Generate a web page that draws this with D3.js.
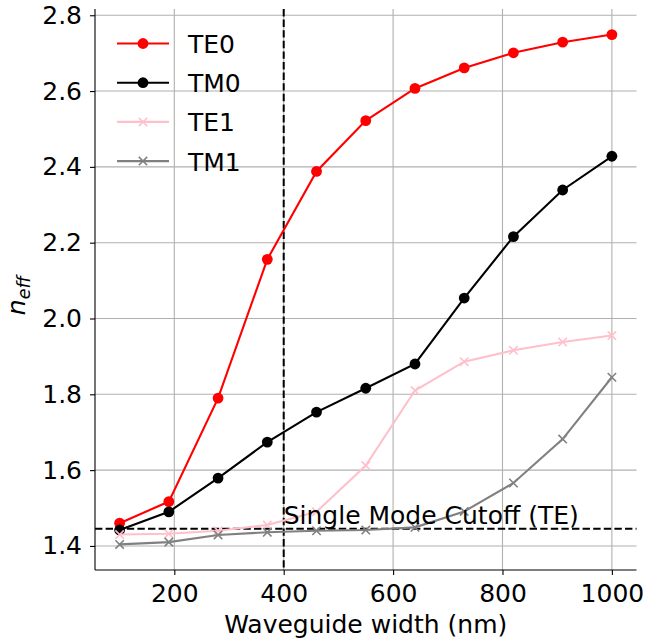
<!DOCTYPE html>
<html>
<head>
<meta charset="utf-8">
<script src="https://cdn.jsdelivr.net/npm/d3@7"></script>
<style>
  body { margin: 0; background: #fff; }
  svg text { font-family: "DejaVu Sans", sans-serif; fill: #000; }
</style>
</head>
<body>
<svg id="chart" width="645" height="644"></svg>
<script>
// Effective index vs waveguide width

// Data
const widths = [100, 190, 280, 370, 460, 550, 640, 730, 820, 910, 1000];
const te0 = [1.46, 1.517, 1.79, 2.156, 2.388, 2.522, 2.607, 2.661, 2.701, 2.729, 2.749];
const tm0 = [1.442, 1.49, 1.579, 1.674, 1.753, 1.816, 1.88, 2.054, 2.216, 2.339, 2.428];
const te1 = [1.43, 1.432, 1.44, 1.455, 1.49, 1.612, 1.81, 1.886, 1.916, 1.938, 1.955];
const tm1 = [1.404, 1.41, 1.429, 1.436, 1.44, 1.442, 1.449, 1.491, 1.566, 1.682, 1.845];
const seriesNames = ['TE0', 'TM0', 'TE1', 'TM1'];
const seriesColors = ['#ff0000', '#000000', '#ffc0cb', '#808080'];
const seriesMarkers = ['circle', 'circle', 'x', 'x'];
const xTicks = [200, 400, 600, 800, 1000];
const yTicks = [1.4, 1.6, 1.8, 2.0, 2.2, 2.4, 2.6, 2.8];
const cutoffWidth = 400;
const cutoffIndex = 1.445;

const series = [te0, tm0, te1, tm1].map((vals, i) => ({
    name: seriesNames[i],
    color: seriesColors[i],
    marker: seriesMarkers[i],
    points: widths.map((w, j) => ({ x: w, y: vals[j] }))
}));

// Layout
const plot = { left: 95, right: 636.5, top: 9, bottom: 570 };
const fontSize = 25;
const svg = d3.select('#chart');

const x = d3.scaleLinear().domain([55, 1045]).range([plot.left, plot.right]);
const y = d3.scaleLinear().domain([1.3365, 2.8165]).range([plot.bottom, plot.top]);

// Grid
const grid = svg.append('g');
grid.selectAll('.vgrid').data(xTicks).enter().append('line')
    .attr('x1', d => x(d)).attr('x2', d => x(d))
    .attr('y1', plot.top).attr('y2', plot.bottom)
    .attr('stroke', '#b0b0b0').attr('stroke-width', 1.1);
grid.selectAll('.hgrid').data(yTicks).enter().append('line')
    .attr('x1', plot.left).attr('x2', plot.right)
    .attr('y1', d => y(d)).attr('y2', d => y(d))
    .attr('stroke', '#b0b0b0').attr('stroke-width', 1.1);

// Axes
const xAxis = svg.append('g')
    .attr('transform', `translate(0,${plot.bottom})`)
    .call(d3.axisBottom(x).tickValues(xTicks).tickSize(5).tickPadding(9).tickFormat(d3.format('d')));
const yAxis = svg.append('g')
    .attr('transform', `translate(${plot.left},0)`)
    .call(d3.axisLeft(y).tickValues(yTicks).tickSize(5).tickPadding(8).tickFormat(d3.format('.1f')));

[xAxis, yAxis].forEach(a => {
    a.select('.domain').attr('stroke', '#000').attr('stroke-width', 1.1)
        .attr('d', a === xAxis ? `M${plot.left},0H${plot.right}` : `M0,${plot.top}V${plot.bottom}`);
    a.selectAll('.tick line').attr('stroke', '#000').attr('stroke-width', 1.1);
    a.selectAll('.tick text').attr('font-size', fontSize).attr('font-family', '"DejaVu Sans", sans-serif').attr('fill', '#000');
});

// Axis labels
svg.append('text')
    .attr('x', (plot.left + plot.right) / 2).attr('y', 633)
    .attr('text-anchor', 'middle').attr('font-size', fontSize)
    .text('Waveguide width (nm)');

const ylab = svg.append('text')
    .attr('transform', `translate(25,${(plot.top + plot.bottom) / 2 + 6}) rotate(-90)`)
    .attr('text-anchor', 'middle').attr('font-size', fontSize).attr('font-style', 'italic');
ylab.append('tspan').text('n');
ylab.append('tspan').attr('font-size', 17.5).attr('dy', 5).text('eff');

// Cutoff lines
svg.append('line')
    .attr('x1', x(cutoffWidth)).attr('x2', x(cutoffWidth))
    .attr('y1', plot.top).attr('y2', plot.bottom)
    .attr('stroke', '#000').attr('stroke-width', 2).attr('stroke-dasharray', '7.4,3.2');
svg.append('line')
    .attr('x1', plot.left).attr('x2', plot.right)
    .attr('y1', y(cutoffIndex)).attr('y2', y(cutoffIndex))
    .attr('stroke', '#000').attr('stroke-width', 2).attr('stroke-dasharray', '7.4,3.2');

// Lines and markers
const line = d3.line().x(d => x(d.x)).y(d => y(d.y));

function drawMarker(g, kind, color, px, py) {
    if (kind === 'circle') {
        g.append('circle').attr('cx', px).attr('cy', py).attr('r', 5.4).attr('fill', color);
    } else {
        const r = 4.2;
        g.append('path')
            .attr('d', `M${px - r},${py - r}L${px + r},${py + r}M${px - r},${py + r}L${px + r},${py - r}`)
            .attr('stroke', color).attr('stroke-width', 1.6).attr('fill', 'none');
    }
}

series.forEach(s => {
    const g = svg.append('g');
    g.append('path').datum(s.points)
        .attr('d', line).attr('fill', 'none')
        .attr('stroke', s.color).attr('stroke-width', 2.1);
    s.points.forEach(p => drawMarker(g, s.marker, s.color, x(p.x), y(p.y)));
});

// Cutoff label
svg.append('text')
    .attr('x', x(cutoffWidth)).attr('y', y(cutoffIndex) - 5)
    .attr('font-size', fontSize).text('Single Mode Cutoff (TE)');

// Legend
const legend = svg.append('g').attr('transform', 'translate(117,43.5)');
series.forEach((s, i) => {
    const row = legend.append('g').attr('transform', `translate(0,${i * 39.2})`);
    row.append('line').attr('x1', 0).attr('x2', 52).attr('y1', 0).attr('y2', 0)
        .attr('stroke', s.color).attr('stroke-width', 2.1);
    drawMarker(row, s.marker, s.color, 26, 0);
    row.append('text').attr('x', 71).attr('y', 9.5).attr('font-size', fontSize).text(s.name);
});
</script>
</body>
</html>
